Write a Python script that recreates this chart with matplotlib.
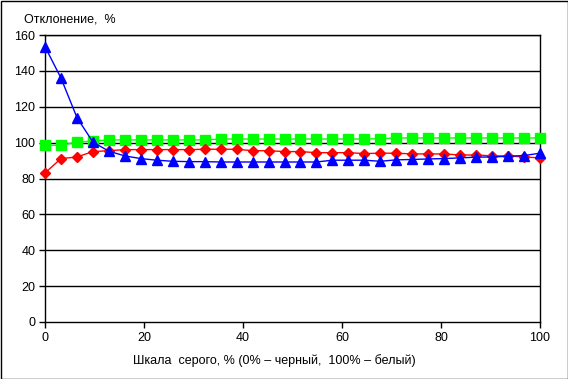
import numpy as np
import matplotlib.pyplot as plt
from matplotlib.patches import Rectangle

plt.rcParams['font.family'] = ['Liberation Sans', 'DejaVu Sans']

# grey scale points, 0..100 %
x = np.linspace(0, 100, 32)

blue = [153.5, 136.0, 114.0, 100.3, 95.2, 92.6, 91.1, 90.2, 89.6, 89.4,
        89.4, 89.2, 89.2, 89.2, 89.2, 89.2, 89.2, 89.2, 90.2, 90.2,
        90.2, 89.6, 90.4, 90.6, 90.9, 91.1, 91.5, 91.9, 92.0, 92.4,
        92.8, 94.1]
red = [83.1, 91.1, 92.0, 95.0, 95.5, 96.1, 96.1, 96.1, 96.1, 96.1,
       96.3, 96.3, 96.3, 95.5, 95.5, 95.0, 95.0, 94.4, 94.4, 94.4,
       93.9, 94.1, 94.1, 93.7, 93.7, 93.7, 93.1, 93.1, 92.6, 92.6,
       92.0, 91.5]
green = [98.5, 98.5, 100.3, 100.9, 101.5, 101.5, 101.5, 101.5, 101.5, 101.5,
         101.5, 102.0, 102.0, 102.0, 102.0, 102.0, 102.0, 102.0, 102.0, 102.0,
         102.0, 102.2, 102.6, 102.6, 102.6, 102.6, 102.6, 102.6, 102.6, 102.6,
         102.6, 102.6]

fig = plt.figure(figsize=(5.68, 3.79), dpi=100)
ax = fig.add_axes([45/568, 1-322/379, 495/568, 287/379])

for y in range(20, 161, 20):
    ax.axhline(y, color='black', lw=1, zorder=1)

ax.plot(x, green, color='#00ff00', lw=1, marker='s', ms=7, mec='#00ff00', clip_on=False, zorder=3)
ax.plot(x, red, color='#ff0000', lw=1, marker='D', ms=5.5, mec='#ff0000', clip_on=False, zorder=4)
ax.plot(x, blue, color='#0000ff', lw=1, marker='^', ms=7.5, mec='#0000ff', clip_on=False, zorder=5)

ax.set_xlim(0, 100)
ax.set_ylim(0, 160)
ax.set_xticks(range(0, 101, 20))
ax.set_yticks(range(0, 161, 20))
for s in ax.spines.values():
    s.set_color('black')
    s.set_linewidth(1)
ax.tick_params(labelsize=9, length=4, width=1, color='black', pad=3)

fig.text(274/568, 1-361/379, 'Шкала  серого, % (0% – черный,  100% – белый)', fontsize=9,
         ha='center', va='center')
fig.text(24/568, 1-19/379, 'Отклонение,  %', fontsize=9, va='center')

fig.patches.append(Rectangle((0.5/568, 0.5/379), 1-1/568, 1-1/379, transform=fig.transFigure,
                             fill=False, edgecolor='black', lw=1))

fig.savefig('out.png', dpi=100)
